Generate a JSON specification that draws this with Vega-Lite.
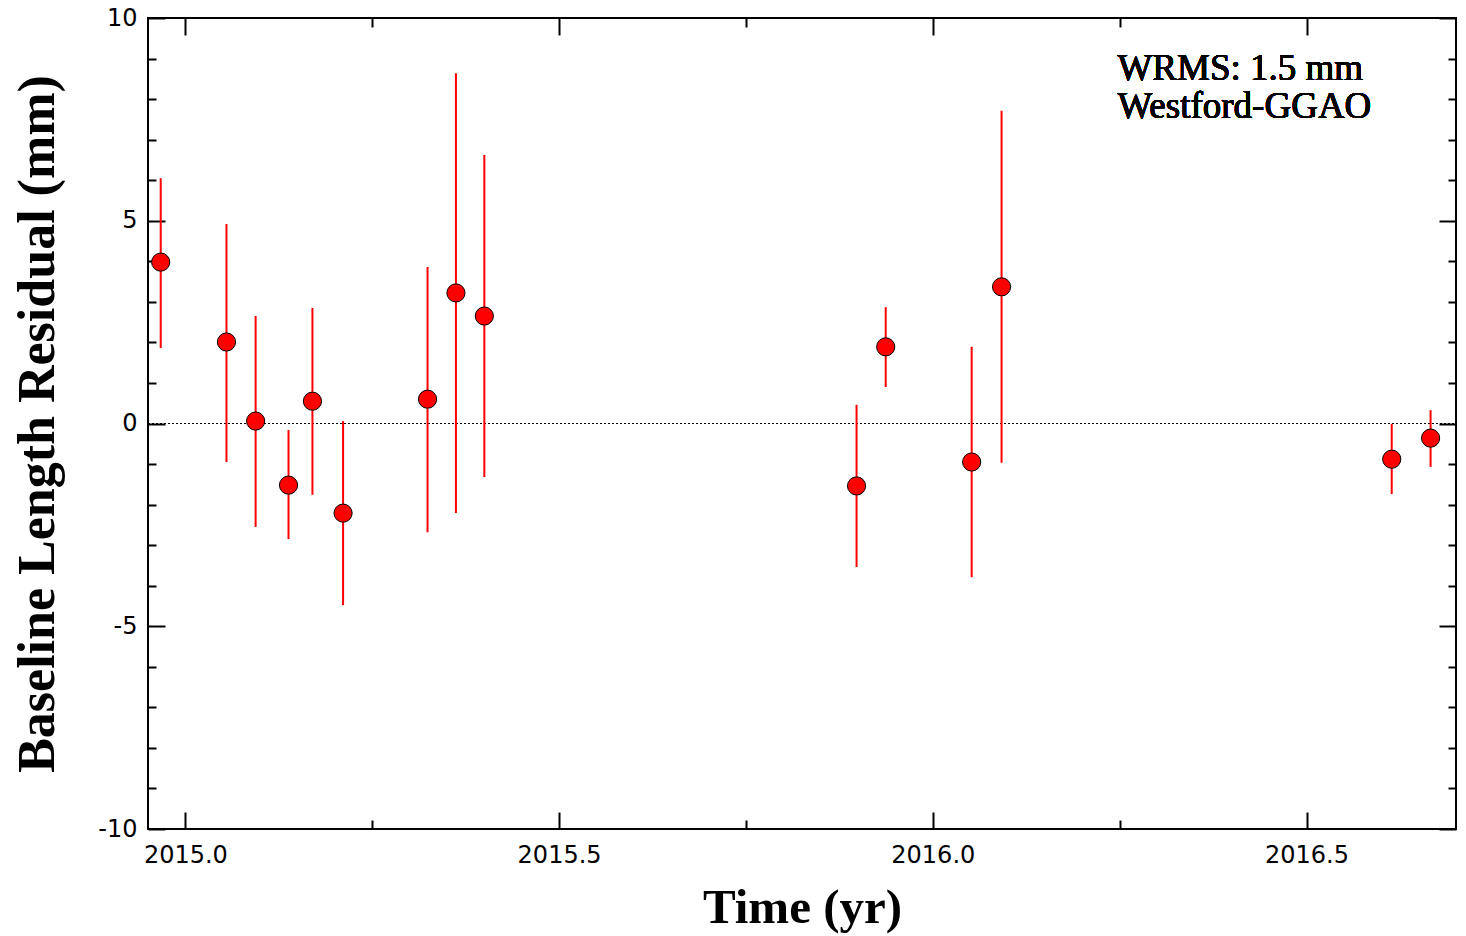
{
  "$schema": "https://vega.github.io/schema/vega-lite/v6.json",
  "width": 1308,
  "height": 811,
  "autosize": {"type": "none"},
  "padding": {"left": 148, "top": 18, "right": 10, "bottom": 107},
  "background": "white",
  "data": {
    "values": [
      {"t": 2014.967, "v": 3.98, "lo": 1.86, "hi": 6.05},
      {"t": 2015.055, "v": 2.01, "lo": -0.95, "hi": 4.92},
      {"t": 2015.094, "v": 0.06, "lo": -2.55, "hi": 2.65},
      {"t": 2015.138, "v": -1.52, "lo": -2.85, "hi": -0.16},
      {"t": 2015.170, "v": 0.55, "lo": -1.76, "hi": 2.85},
      {"t": 2015.211, "v": -2.21, "lo": -4.48, "hi": 0.06},
      {"t": 2015.324, "v": 0.60, "lo": -2.68, "hi": 3.86},
      {"t": 2015.362, "v": 3.22, "lo": -2.21, "hi": 8.64},
      {"t": 2015.400, "v": 2.65, "lo": -1.32, "hi": 6.62},
      {"t": 2015.898, "v": -1.54, "lo": -3.54, "hi": 0.46},
      {"t": 2015.937, "v": 1.89, "lo": 0.90, "hi": 2.87},
      {"t": 2016.052, "v": -0.95, "lo": -3.79, "hi": 1.89},
      {"t": 2016.092, "v": 3.37, "lo": -0.97, "hi": 7.71},
      {"t": 2016.614, "v": -0.88, "lo": -1.74, "hi": -0.01},
      {"t": 2016.666, "v": -0.36, "lo": -1.07, "hi": 0.33}
    ]
  },
  "resolve": {"axis": {"x": "independent", "y": "independent"}},
  "layer": [
    {
      "mark": {"type": "rule", "color": "black", "strokeWidth": 1.2, "strokeDash": [2, 2]},
      "encoding": {
        "x": {"datum": 2014.95, "type": "quantitative",
              "scale": {"domain": [2014.95, 2016.70], "nice": false, "zero": false},
              "axis": {"orient": "top", "values": [2015.25, 2015.75, 2016.25], "tickSize": -9, "labels": false, "title": null}},
        "x2": {"datum": 2016.70},
        "y": {"datum": 0, "type": "quantitative",
              "scale": {"domain": [-10, 10], "nice": false},
              "axis": {"orient": "right", "values": [-9,-8,-7,-6,-4,-3,-2,-1,1,2,3,4,6,7,8,9], "tickSize": -8, "labels": false, "title": null}}
      }
    },
    {
      "mark": {"type": "rule", "color": "#ff0000", "strokeWidth": 2},
      "encoding": {
        "x": {"field": "t", "type": "quantitative",
              "scale": {"domain": [2014.95, 2016.70], "nice": false, "zero": false},
              "axis": {"orient": "bottom", "values": [2015, 2015.5, 2016, 2016.5], "format": ".1f", "tickSize": -17, "labelPadding": 31, "labelFlush": false, "labelOverlap": false,
                       "title": "Time (yr)", "titleFontSize": 49, "titlePadding": 16}},
        "y": {"field": "lo", "type": "quantitative",
              "scale": {"domain": [-10, 10], "nice": false},
              "axis": {"orient": "left", "values": [-10, -5, 0, 5, 10], "labelExpr": "datum.value + ''", "tickSize": -17, "labelPadding": 28, "labelFlush": false, "labelOverlap": false,
                       "title": "Baseline Length Residual (mm)", "titleFontSize": 52, "titlePadding": 33}},
        "y2": {"field": "hi"}
      }
    },
    {
      "mark": {"type": "point", "shape": "circle", "filled": true, "fill": "#ff0000", "stroke": "black", "strokeWidth": 1, "size": 330, "opacity": 1},
      "encoding": {
        "x": {"field": "t", "type": "quantitative",
              "scale": {"domain": [2014.95, 2016.70], "nice": false, "zero": false},
              "axis": {"orient": "bottom", "values": [2015.25, 2015.75, 2016.25], "tickSize": -9, "labels": false, "title": null}},
        "y": {"field": "v", "type": "quantitative",
              "scale": {"domain": [-10, 10], "nice": false},
              "axis": {"orient": "left", "values": [-9,-8,-7,-6,-4,-3,-2,-1,1,2,3,4,6,7,8,9], "tickSize": -8, "labels": false, "title": null}}
      }
    },
    {
      "mark": {"type": "text", "text": ["WRMS: 1.5 mm", "Westford-GGAO"], "align": "left", "baseline": "alphabetic", "font": "Liberation Serif", "fontSize": 37, "lineHeight": 38, "color": "black"},
      "encoding": {
        "x": {"datum": 2016.247, "type": "quantitative",
              "scale": {"domain": [2014.95, 2016.70], "nice": false, "zero": false},
              "axis": {"orient": "top", "values": [2015, 2015.5, 2016, 2016.5], "tickSize": -17, "labels": false, "title": null}},
        "y": {"datum": 8.47, "type": "quantitative",
              "scale": {"domain": [-10, 10], "nice": false},
              "axis": {"orient": "right", "values": [-10, -5, 0, 5, 10], "tickSize": -17, "labels": false, "title": null}}
      }
    }
  ],
  "config": {
    "view": {"stroke": "black", "strokeWidth": 2},
    "axis": {
      "domain": false, "grid": false,
      "tickColor": "black", "tickWidth": 2,
      "labelFont": "DejaVu Sans", "labelFontSize": 24, "labelColor": "black",
      "titleFont": "Liberation Serif", "titleFontWeight": "bold", "titleColor": "black"
    }
  }
}
